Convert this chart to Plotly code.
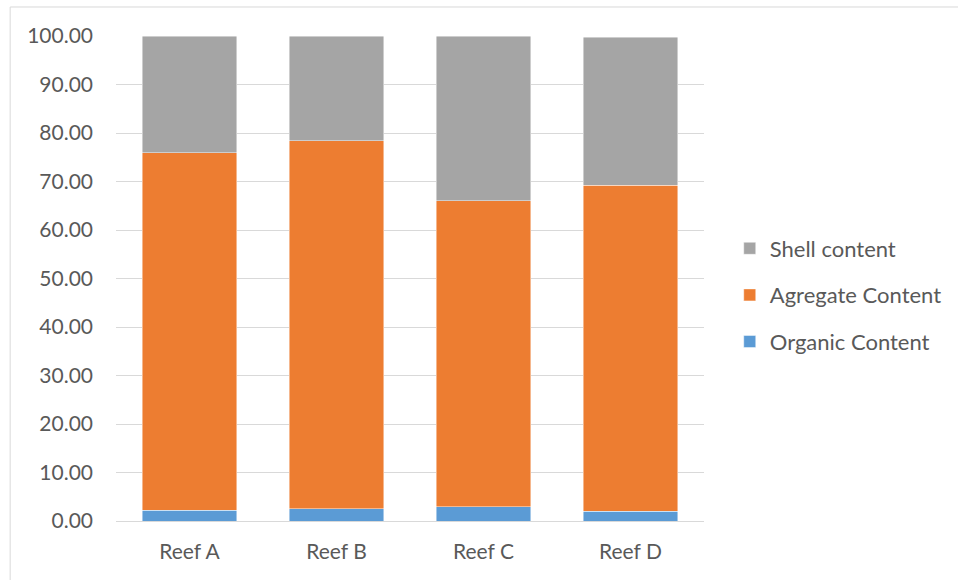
import plotly.graph_objects as go

# Sediment composition per reef (%)
reefs = ["Reef A", "Reef B", "Reef C", "Reef D"]
organic = [2.2, 2.5, 2.9, 2.0]
aggregate = [73.7, 75.9, 63.1, 67.2]
shell = [24.1, 21.6, 34.0, 30.5]
y_ticks = [0, 10, 20, 30, 40, 50, 60, 70, 80, 90, 100]

FONT = "Lato, Carlito, Calibri, sans-serif"
TEXT = "#595959"
GRID = "#d9d9d9"

fig = go.Figure()
# (name, values, colour, legend position from top)
series = [
    ("Organic Content", organic, "#5b9bd5", 3),
    ("Agregate Content", aggregate, "#ed7d31", 2),
    ("Shell content", shell, "#a5a5a5", 1),
]
for name, vals, color, rank in series:
    fig.add_trace(go.Bar(
        x=reefs, y=vals, name=name, legendgroup=name, legendrank=rank,
        marker=dict(color=color, line=dict(color="rgba(255,255,255,0.6)", width=0.75)),
    ))

# Outer chart frame
fig.add_shape(
    type="rect", xref="paper", yref="paper",
    x0=-0.18, x1=1.45, y0=-0.14, y1=1.0598,
    line=dict(color=GRID, width=1), fillcolor="rgba(0,0,0,0)", layer="below",
)

fig.update_layout(
    width=958, height=580,
    margin=dict(l=116, r=253, t=36, b=59),
    barmode="stack", bargap=0.36,
    plot_bgcolor="white", paper_bgcolor="white",
    font=dict(family=FONT, size=21, color=TEXT),
    showlegend=True,
    legend=dict(
        traceorder="grouped", tracegroupgap=15,
        x=1.042, y=0.466, xanchor="left", yanchor="middle",
        font=dict(family=FONT, size=22, color=TEXT),
        itemwidth=30,
    ),
    xaxis=dict(
        showgrid=False, showline=True, linecolor=GRID, linewidth=1,
        ticks="", tickfont=dict(family=FONT, size=21, color=TEXT),
        ticklabelstandoff=12,
    ),
    yaxis=dict(
        range=[0, 100], tickvals=y_ticks,
        ticktext=[f"{v:.2f}" for v in y_ticks],
        showgrid=True, gridcolor=GRID, gridwidth=1,
        zeroline=False, showline=False, ticks="",
        tickfont=dict(family=FONT, size=21, color=TEXT),
        ticklabelstandoff=22,
    ),
)

fig.write_html("out.html")
